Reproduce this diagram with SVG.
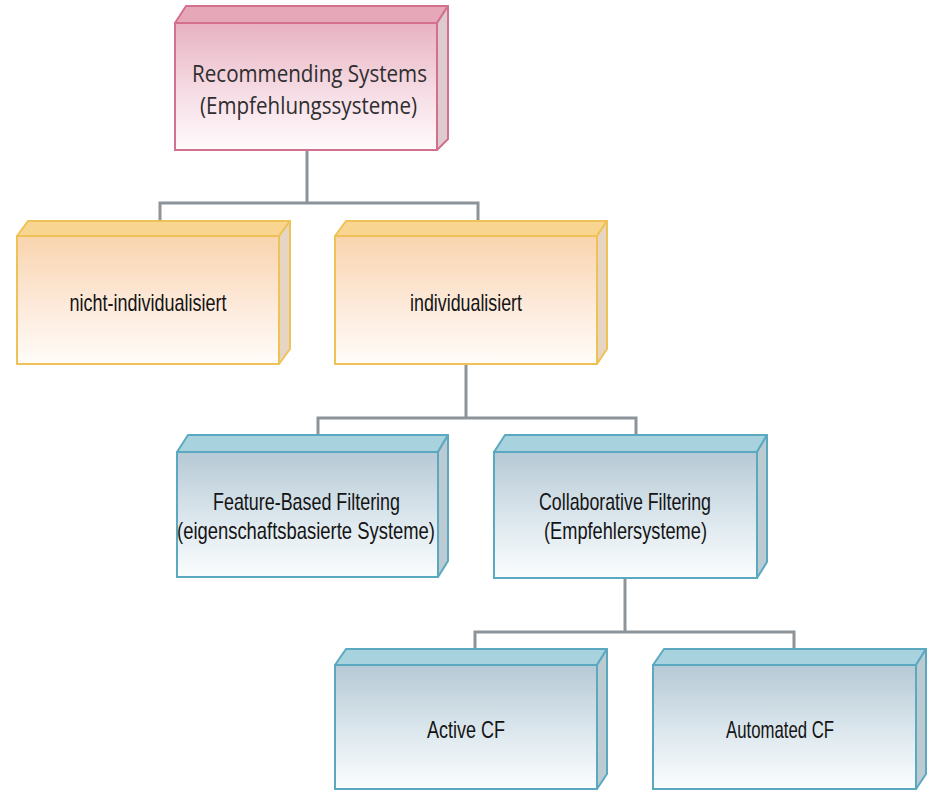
<svg xmlns="http://www.w3.org/2000/svg" width="933" height="791" viewBox="0 0 933 791">
  <defs>
    <linearGradient id="gPink" x1="0" y1="0" x2="0" y2="1">
      <stop offset="0" stop-color="#e8b2c2"/>
      <stop offset="0.55" stop-color="#f6dde5"/>
      <stop offset="1" stop-color="#fffafc"/>
    </linearGradient>
    <linearGradient id="gOrange" x1="0" y1="0" x2="0" y2="1">
      <stop offset="0" stop-color="#f9d4ae"/>
      <stop offset="0.55" stop-color="#fdeadb"/>
      <stop offset="1" stop-color="#fffcf8"/>
    </linearGradient>
    <linearGradient id="gBlue" x1="0" y1="0" x2="0" y2="1">
      <stop offset="0" stop-color="#b6c9d5"/>
      <stop offset="0.55" stop-color="#dde8ee"/>
      <stop offset="1" stop-color="#fbfdfe"/>
    </linearGradient>
  </defs>
  <style>
    .conn { fill: none; stroke: #8c949a; stroke-width: 3; }
    .pink .front { fill: url(#gPink); stroke: #d2708e; stroke-width: 2; }
    .pink .top { fill: #e6a7b9; stroke: #d2708e; stroke-width: 2; stroke-linejoin: round; }
    .pink .side { fill: #ddcbd0; stroke: #d2708e; stroke-width: 2; stroke-linejoin: round; }
    .orange .front { fill: url(#gOrange); stroke: #efc257; stroke-width: 2; }
    .orange .top { fill: #f8d591; stroke: #efc257; stroke-width: 2; stroke-linejoin: round; }
    .orange .side { fill: #e5d5c2; stroke: #efc257; stroke-width: 2; stroke-linejoin: round; }
    .blue .front { fill: url(#gBlue); stroke: #5aa9c1; stroke-width: 2; }
    .blue .top { fill: #a8d2de; stroke: #5aa9c1; stroke-width: 2; stroke-linejoin: round; }
    .blue .side { fill: #bccad2; stroke: #5aa9c1; stroke-width: 2; stroke-linejoin: round; }
    .lbl { font-family: "Liberation Sans", Arial, sans-serif; font-size: 24px; fill: #141414; text-anchor: middle; }
    .lblp { font-family: "Open Sans", "Noto Sans", sans-serif; font-size: 24px; fill: #2e2e2e; text-anchor: middle; }
  </style>

  <g id="connectors">
    <polyline class="conn" points="307,150 307,203"/>
    <polyline class="conn" points="160,221 160,203 478,203 478,221"/>
    <polyline class="conn" points="466,364 466,418"/>
    <polyline class="conn" points="318,435 318,418 636,418 636,435"/>
    <polyline class="conn" points="625,578 625,632"/>
    <polyline class="conn" points="475,649 475,632 794,632 794,649"/>
  </g>

  <g id="node-recommending" class="pink">
    <polygon class="top" points="175,23 186,6 448,6 437,23"/>
    <polygon class="side" points="437,23 448,6 448,139 437,150"/>
    <rect class="front" x="175" y="23" width="262" height="127"/>
    <text class="lblp" x="309.5" y="82" textLength="235" lengthAdjust="spacingAndGlyphs">Recommending Systems</text>
    <text class="lblp" x="308.5" y="114" textLength="217" lengthAdjust="spacingAndGlyphs">(Empfehlungssysteme)</text>
  </g>

  <g id="node-nicht-individualisiert" class="orange">
    <polygon class="top" points="17,236 28,221 290,221 279,236"/>
    <polygon class="side" points="279,236 290,221 290,349 279,364"/>
    <rect class="front" x="17" y="236" width="262" height="128"/>
    <text class="lbl" x="148" y="311" textLength="157" lengthAdjust="spacingAndGlyphs">nicht-individualisiert</text>
  </g>

  <g id="node-individualisiert" class="orange">
    <polygon class="top" points="335,236 346,221 607,221 597,236"/>
    <polygon class="side" points="597,236 607,221 607,349 597,364"/>
    <rect class="front" x="335" y="236" width="262" height="128"/>
    <text class="lbl" x="466" y="311" textLength="112" lengthAdjust="spacingAndGlyphs">individualisiert</text>
  </g>

  <g id="node-feature-based" class="blue">
    <polygon class="top" points="177,452 188,435 448,435 438,452"/>
    <polygon class="side" points="438,452 448,435 448,561 438,577"/>
    <rect class="front" x="177" y="452" width="261" height="125"/>
    <text class="lbl" x="306.5" y="510" textLength="187" lengthAdjust="spacingAndGlyphs">Feature-Based Filtering</text>
    <text class="lbl" x="306" y="539" textLength="258" lengthAdjust="spacingAndGlyphs">(eigenschaftsbasierte Systeme)</text>
  </g>

  <g id="node-collaborative" class="blue">
    <polygon class="top" points="494,452 505,435 767,435 757,452"/>
    <polygon class="side" points="757,452 767,435 767,562 757,578"/>
    <rect class="front" x="494" y="452" width="263" height="126"/>
    <text class="lbl" x="625" y="510" textLength="172" lengthAdjust="spacingAndGlyphs">Collaborative Filtering</text>
    <text class="lbl" x="625.5" y="539" textLength="163" lengthAdjust="spacingAndGlyphs">(Empfehlersysteme)</text>
  </g>

  <g id="node-active-cf" class="blue">
    <polygon class="top" points="335,665 346,649 607,649 597,665"/>
    <polygon class="side" points="597,665 607,649 607,774 597,789"/>
    <rect class="front" x="335" y="665" width="262" height="124"/>
    <text class="lbl" x="466" y="738" textLength="78" lengthAdjust="spacingAndGlyphs">Active CF</text>
  </g>

  <g id="node-automated-cf" class="blue">
    <polygon class="top" points="653,665 664,649 926,649 916,665"/>
    <polygon class="side" points="916,665 926,649 926,774 916,789"/>
    <rect class="front" x="653" y="665" width="263" height="124"/>
    <text class="lbl" x="780" y="738" textLength="108" lengthAdjust="spacingAndGlyphs">Automated CF</text>
  </g>
</svg>
